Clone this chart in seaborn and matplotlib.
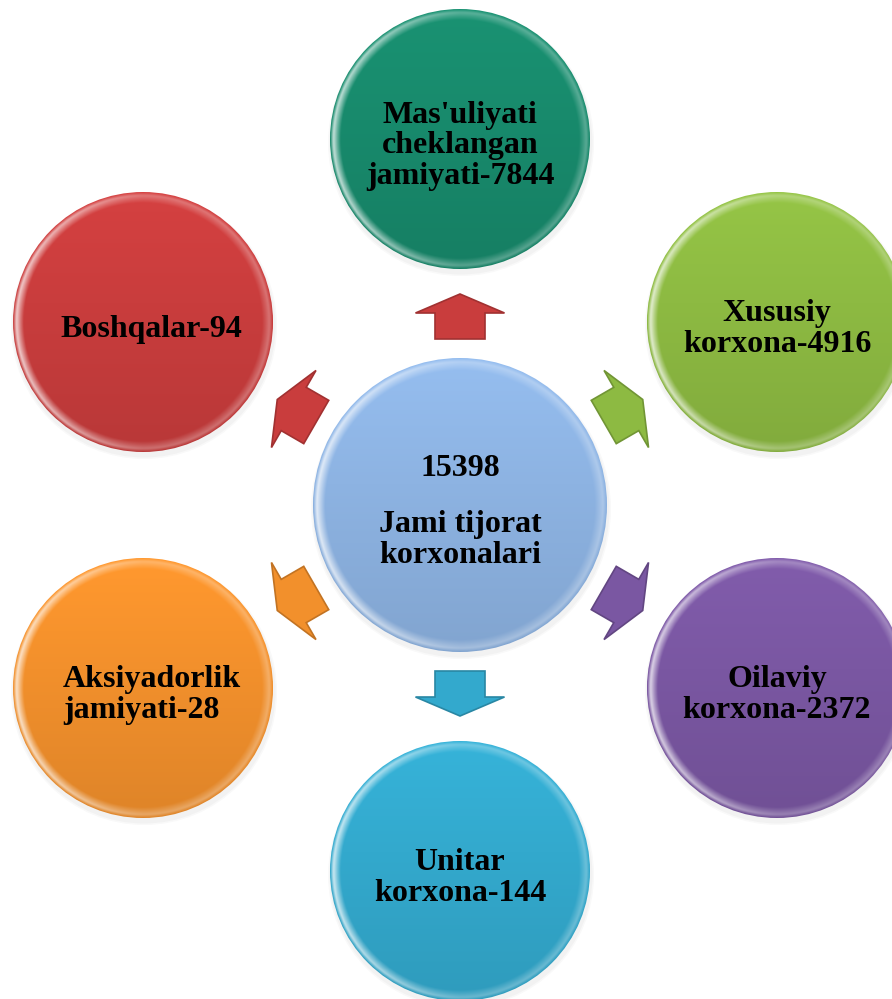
import numpy as np
import matplotlib
matplotlib.use("Agg")
import matplotlib.pyplot as plt
import matplotlib.colors as mcolors
from matplotlib.patches import Circle, FancyArrow
import seaborn as sns

# data
total_label = "Jami tijorat\nkorxonalari"
total_count = 15398
categories = ["Mas'uliyati\ncheklangan\njamiyati", "Xususiy\nkorxona", "Oilaviy\nkorxona",
              "Unitar\nkorxona", "Aksiyadorlik\njamiyati", "Boshqalar"]
counts = [7844, 4916, 2372, 144, 28, 94]
angles = [90, 30, -30, -90, -150, 150]
colors = ["#188a6c", "#8dba42", "#7a57a2", "#33a9cd", "#f2902c", "#c93d3d"]
arrow_colors = ["#c93d3d", "#8dba42", "#7a57a2", "#33a9cd", "#f2902c", "#c93d3d"]
hub_color = "#8db3e2"

sns.set_theme(style="white")
palette = sns.color_palette(colors)
arrow_palette = sns.color_palette(arrow_colors)

W, H = 892, 999
hub_x, hub_y = 460, 505
hub_r, node_r, ring_r = 147, 130, 366


def shaded_disc(ax, cx, cy, r, color):
    # soft shadow below the disc
    for k, a in [(3, 0.05), (1.5, 0.06)]:
        ax.add_patch(Circle((cx + 1, cy + 4), r + k, color="#8a8a8a", alpha=a, lw=0, zorder=1))
    n = 300
    u, v = np.meshgrid(np.linspace(-1, 1, n), np.linspace(-1, 1, n))
    d = np.sqrt(u ** 2 + v ** 2)
    base = np.array(mcolors.to_rgb(color))
    t = (v + 1) / 2  # 0 top, 1 bottom
    img = base[None, None, :] * (1.06 - 0.14 * t[..., None])
    img = np.clip(img, 0, 1)
    # glossy rim, brighter on the left side
    rim = np.clip((d - 0.92) / 0.06, 0, 1) * np.clip((1.0 - d) / 0.025, 0, 1)
    side = 0.3 + 0.5 * np.clip(-u, 0, 1)
    glow = (rim * side)[..., None]
    img = img * (1 - glow) + glow
    im = ax.imshow(img, extent=(cx - r, cx + r, cy + r, cy - r), origin="upper",
                   interpolation="bilinear", zorder=2)
    clip = Circle((cx, cy), r, transform=ax.transData, facecolor="none", edgecolor="none")
    ax.add_patch(clip)
    im.set_clip_path(clip)


fig = plt.figure(figsize=(W / 100, H / 100), dpi=100)
ax = fig.add_axes([0, 0, 1, 1])
ax.set_xlim(0, W)
ax.set_ylim(H, 0)
ax.axis("off")

font = dict(family="Liberation Serif", fontweight="bold", fontsize=23, color="black")

# center circle
shaded_disc(ax, hub_x, hub_y, hub_r, hub_color)
ax.text(hub_x, hub_y - 36, str(total_count), ha="center", va="center", zorder=5, **font)
ax.text(hub_x, hub_y + 35, total_label, ha="center", va="center", linespacing=1.05,
        zorder=5, **font)

for cat, cnt, ang, col, acol in zip(categories, counts, angles, palette, arrow_palette):
    th = np.deg2rad(ang)
    ux, uy = np.cos(th), -np.sin(th)
    cx, cy = hub_x + ring_r * ux, hub_y + ring_r * uy
    shaded_disc(ax, cx, cy, node_r, col)

    # arrow pointing outwards
    dark = tuple(np.array(acol) * 0.8)
    ax.add_patch(FancyArrow(hub_x + 166 * ux, hub_y + 166 * uy, 45 * ux, 45 * uy,
                            width=50, head_width=89, head_length=19,
                            length_includes_head=True, facecolor=acol,
                            edgecolor=dark, lw=1.2, zorder=3))

    label = f"{cat}-{cnt}"
    ty = cy + 7
    if cat.startswith("Aksiyadorlik"):
        ax.text(cx + 9, ty, label, ha="center", va="center", multialignment="left",
                linespacing=1.05, zorder=5, **font)
    else:
        ax.text(cx + (8 if ang == 150 else 0), ty, label, ha="center", va="center",
                linespacing=1.05, zorder=5, **font)

fig.savefig("out.png", dpi=100)
plt.close(fig)
